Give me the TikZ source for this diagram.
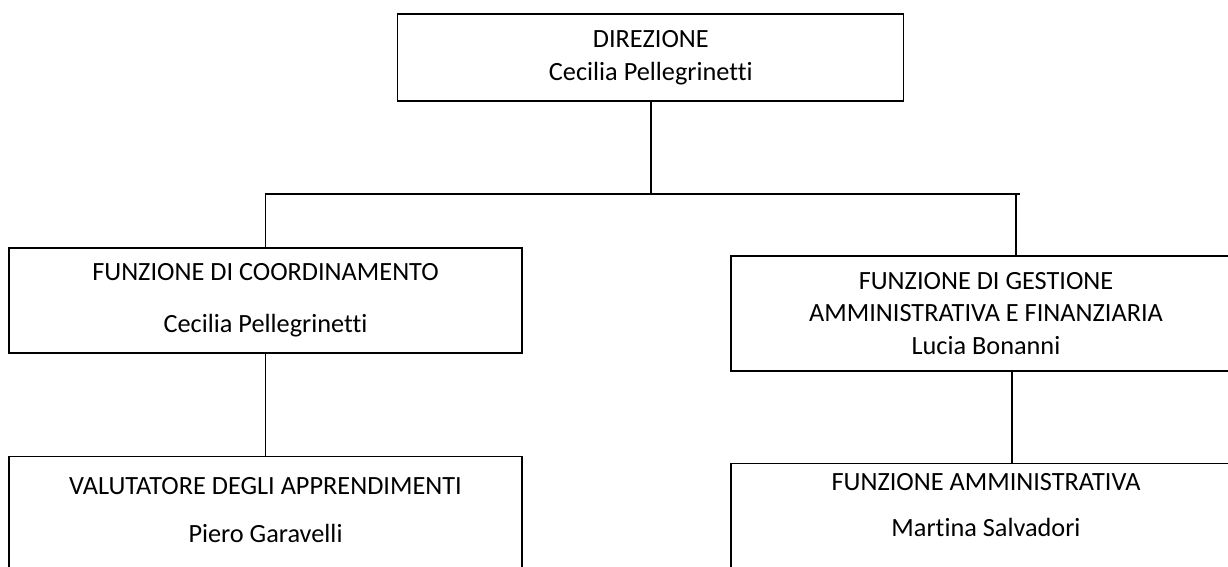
\documentclass[tikz,border=0pt]{standalone}
\usepackage{fontspec}
\setmainfont{Carlito}[Ligatures=NoCommon]
\begin{document}
\begin{tikzpicture}[unit/.style={draw,rectangle,line width=0.8pt,align=center,inner sep=0pt},tounit/.style={line width=1.1pt},txt/.style={align=center,inner sep=0pt,font=\fontsize{18.7}{23.4}\selectfont}]
\useasboundingbox (0,0) rectangle (30.7,14.175);
\clip (0,0) rectangle (30.7,14.175);
\node[unit,txt,minimum width=12.65cm,minimum height=2.175cm] (dir) at (16.27,12.7375) {DIREZIONE\\Cecilia Pellegrinetti};
\node[unit,txt,minimum width=12.825cm,minimum height=2.625cm] (coord) at (6.6375,6.6625) {FUNZIONE DI COORDINAMENTO\\[13.5pt]Cecilia Pellegrinetti};
\node[unit,txt,minimum width=12.75cm,minimum height=2.875cm] (gest) at (24.65,6.3375) {FUNZIONE DI GESTIONE\\AMMINISTRATIVA E FINANZIARIA\\Lucia Bonanni};
\node[unit,minimum width=12.825cm,minimum height=3.5cm,anchor=north] (val) at (6.6375,2.775) {};
\node[txt] (valtxt) at (6.6375,1.425) {VALUTATORE DEGLI APPRENDIMENTI\\[10.7pt]Piero Garavelli};
\node[unit,minimum width=12.75cm,minimum height=3.5cm,anchor=north] (amm) at (24.65,2.6) {};
\node[txt] (ammtxt) at (24.65,1.55) {FUNZIONE AMMINISTRATIVA\\[9.3pt]Martina Salvadori};
\coordinate (barL) at (6.625,9.325);
\coordinate (barR) at (25.5,9.325);
\coordinate (tickR) at (25.4,9.325);
\coordinate (downR) at (25.3,0);
\draw[tounit] (barL) -- (barR);
\draw[tounit] (dir.south) -- (dir.south |- barL);
\draw[tounit] (coord.north |- barL) -- (coord.north);
\draw[tounit] (tickR) -- (tickR |- gest.north);
\draw[tounit] (coord.south) -- (val.north);
\draw[tounit] (gest.south -| downR) -- (amm.north -| downR);
\end{tikzpicture}
\end{document}
